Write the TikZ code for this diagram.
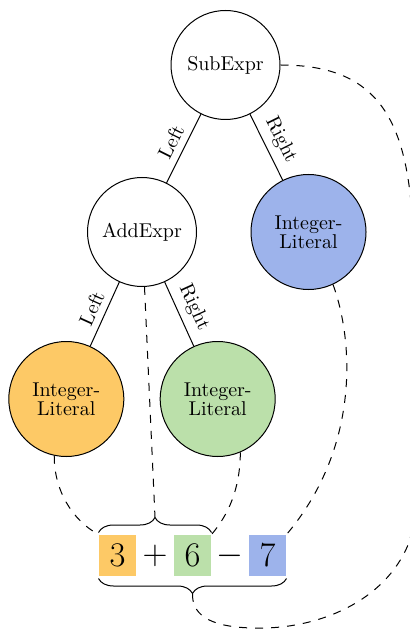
\documentclass[tikz,border=0pt]{standalone}
\usetikzlibrary{decorations.pathreplacing,calc}
\definecolor{litorange}{HTML}{FDC966}
\definecolor{litgreen}{HTML}{BBE0AA}
\definecolor{litblue}{HTML}{9DB3EB}
\begin{document}
\begin{tikzpicture}[x=0.5pt,y=-0.5pt,line width=0.5pt,
  expr/.style={circle,draw,minimum size=54.5pt,inner sep=0pt},
  lit/.style={circle,draw,minimum size=57.5pt,inner sep=0pt,align=center,font=\fontsize{10}{9.5}\selectfont},
  tok/.style={minimum width=18.5pt,minimum height=20.5pt,inner sep=0pt,font=\LARGE},
  edgelabel/.style={midway,sloped,above},
  link/.style={dash pattern=on 4pt off 4pt},
  bracket/.style={decorate,decoration={brace,amplitude=7.5pt,raise=1pt}}]
\useasboundingbox (0,0) rectangle (410,630);

% syntax tree
\node[expr] (sub) at (225.5,65) {SubExpr};
\node[expr] (add) at (142,232) {AddExpr};
\node[lit,fill=litblue] (r7) at (308.5,232) {Integer-\\Literal};
\node[lit,fill=litorange] (l3) at (66.3,399) {Integer-\\Literal};
\node[lit,fill=litgreen] (l6) at (217.7,399) {Integer-\\Literal};

\draw (sub) -- node[edgelabel]{Left} (add);
\draw (sub) -- node[edgelabel]{Right} (r7);
\draw (add) -- node[edgelabel]{Left} (l3);
\draw (add) -- node[edgelabel]{Right} (l6);

% source tokens
\node[tok,fill=litorange] (t3) at (117.5,555.5) {$3$};
\node[tok] (plus) at (155,555.5) {$+$};
\node[tok,fill=litgreen] (t6) at (192.5,555.5) {$6$};
\node[tok] (minus) at (230,555.5) {$-$};
\node[tok,fill=litblue] (t7) at (267.5,555.5) {$7$};

\draw[bracket] (t3.north west) -- (t6.north east);
\draw[bracket] (t7.south east) -- (t3.south west);
\coordinate (toptip) at ($(t3.north west)!0.5!(t6.north east)+(0,8.5pt)$);
\coordinate (bottip) at ($(t3.south west)!0.5!(t7.south east)-(0,8.5pt)$);

% links from tree nodes to source spans
\draw[link] (add) -- (toptip);
\draw[link] (l3.-102) .. controls (54,490) and (72,520) .. (t3.north west);
\draw[link] (l6.-67) .. controls (240,490) and (228,515) .. (t6.north east);
\draw[link] (r7.-65) .. controls (355,345) and (358,450) .. (t7.north east);
\draw[link] (sub.east) .. controls (370,65) and (405,110) .. (412,215)
  .. controls (420,360) and (430,480) .. (408,545)
  .. controls (385,600) and (320,630) .. (253,628)
  .. controls (205,627) and (192,612) .. (bottip);
\end{tikzpicture}
\end{document}
